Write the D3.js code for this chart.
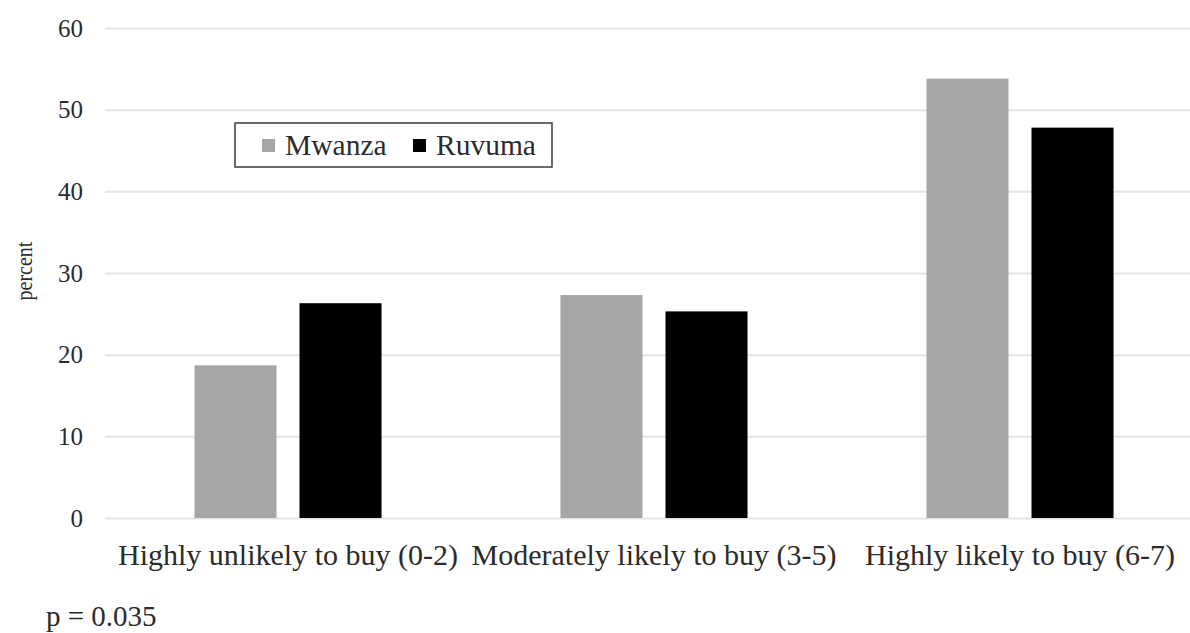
<!DOCTYPE html>
<html><head>
<script src="https://d3js.org/d3.v7.min.js"></script>
<style>
  body { margin: 0; background: #fff; }
  text { font-family: "Liberation Serif", "Times New Roman", serif; fill: #2b2b2b; }
  .gridlines line { stroke: #e4e4e4; stroke-width: 2; }
  .gridlines .domain { stroke: none; }
  .y.axis .domain, .y.axis line { stroke: none; }
</style>
</head>
<body>
<svg id="svg1" width="1190" height="633"></svg>
<script>

// data
const categories = ["Highly unlikely to buy (0-2)", "Moderately likely to buy (3-5)", "Highly likely to buy (6-7)"];
const seriesNames = ["Mwanza", "Ruvuma"];
const mwanza = [18.7, 27.3, 53.8];
const ruvuma = [26.3, 25.3, 47.8];
const yTicks = [0, 10, 20, 30, 40, 50, 60];
const seriesColors = ["#a6a6a6", "#000000"];

const svg1 = d3.select("svg#svg1");
const margins = {top: 28, left: 105, bottom: 115};
const chHeight = 633 - margins.top - margins.bottom;   // 0 sits at y=518
const plotRight = 1203;                                 // plot runs past the cropped edge

let valScale = d3.scaleLinear().domain([0, 60]).range([chHeight, 0]);

let catScale = d3.scaleBand().domain(categories).range([0, plotRight - margins.left]).padding(0);
let serScale = d3.scaleBand().domain(seriesNames).range([0, catScale.bandwidth()])
                 .paddingInner(0.219).paddingOuter(0.852);

let annotations = svg1.append("g");

let leftGrid = d3.axisLeft(valScale).tickValues(yTicks)
                 .tickSize(-(plotRight - margins.left)).tickFormat("");
annotations.append("g")
      .attr("class", "y gridlines")
      .attr("transform", `translate(${margins.left},${margins.top})`)
      .call(leftGrid);

let leftAxis = d3.axisLeft(valScale).tickValues(yTicks).tickSize(0).tickPadding(22)
                 .tickFormat(d => "" + d);
annotations.append("g")
      .attr("class", "y axis")
      .attr("transform", `translate(${margins.left},${margins.top})`)
      .call(leftAxis)
      .selectAll("text")
      .style("font-size", "25px")
      .style("font-family", "Liberation Serif")
      .attr("fill", "#2b2b2b");

// y title (the source image is stretched sideways a little)
svg1.append("text")
    .attr("transform", `translate(32,${margins.top + chHeight / 2 - 2}) scale(1.2,1) rotate(-90)`)
    .attr("text-anchor", "middle")
    .style("font-size", "20px")
    .text("percent");

// bars
let rows = categories.map((c, i) => ({cat: c, values: [mwanza[i], ruvuma[i]]}));

let chartArea = svg1.append("g")
      .attr("transform", `translate(${margins.left},${margins.top})`);

let groups = chartArea.selectAll("g.grp").data(rows)
      .join("g")
      .attr("class", "grp")
      .attr("transform", d => `translate(${catScale(d.cat)},0)`);

groups.selectAll("rect").data(d => d.values.map((v, j) => ({name: seriesNames[j], v: v, j: j})))
      .join("rect")
      .attr("x", d => serScale(d.name))
      .attr("width", serScale.bandwidth())
      .attr("y", d => valScale(d.v))
      .attr("height", d => chHeight - valScale(d.v))
      .attr("fill", d => seriesColors[d.j]);

// category labels
svg1.append("g").selectAll("text").data(categories)
    .join("text")
    .attr("x", d => margins.left + catScale(d) + catScale.bandwidth() / 2)
    .attr("y", margins.top + chHeight + 47)
    .attr("text-anchor", "middle")
    .style("font-size", "30px")
    .text(d => d);

// p value note
svg1.append("text")
    .attr("x", 46).attr("y", 626)
    .style("font-size", "29px")
    .text("p = 0.035");

// legend
let legend = svg1.append("g").attr("transform", "translate(235,123)");
legend.append("rect")
    .attr("x", 0).attr("y", 0).attr("width", 317).attr("height", 44)
    .attr("fill", "#fff").attr("stroke", "#3a3a3a").attr("stroke-width", 1.5);

const legendX = [27, 178];
let items = legend.selectAll("g.item").data(seriesNames)
    .join("g")
    .attr("class", "item")
    .attr("transform", (d, i) => `translate(${legendX[i]},0)`);
items.append("rect")
    .attr("x", 0).attr("y", 16).attr("width", 13).attr("height", 13)
    .attr("fill", (d, i) => seriesColors[i]);
items.append("text")
    .attr("x", 23).attr("y", 32)
    .style("font-size", "29.5px")
    .text(d => d);

</script>
</body>
</html>
